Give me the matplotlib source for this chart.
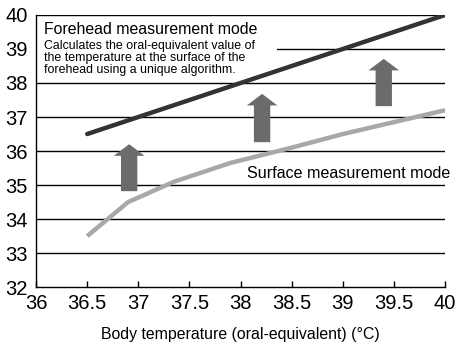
import numpy as np
import matplotlib.pyplot as plt
from matplotlib.patches import Rectangle

plt.rcParams['font.family'] = ['Liberation Sans', 'DejaVu Sans']

# data
body_temp = [36.5, 37.0, 37.5, 38.0, 38.5, 39.0, 39.5, 40.0]
forehead = [36.5, 37.0, 37.5, 38.0, 38.5, 39.0, 39.5, 40.0]
surface_x = [36.5, 36.9, 37.35, 37.9, 38.5, 39.0, 39.5, 40.0]
surface = [33.5, 34.5, 35.1, 35.65, 36.1, 36.5, 36.85, 37.2]
arrow_x = [36.91, 38.21, 39.40]
arrow_from = [34.82, 36.26, 37.32]
arrow_to = [36.2, 37.68, 38.71]
xticks = [36, 36.5, 37, 37.5, 38, 38.5, 39, 39.5, 40]
yticks = [32, 33, 34, 35, 36, 37, 38, 39, 40]

fig = plt.figure(figsize=(4.57, 3.48), dpi=100)
ax = fig.add_axes([0.079, 0.175, 0.895, 0.782])
ax.set_xlim(36, 40)
ax.set_ylim(32, 40)

# grid lines
for y in yticks[1:]:
    ax.axhline(y, color='black', lw=1.0, zorder=1)

# white box behind the forehead caption
ax.add_patch(Rectangle((0, 0.78), 0.59, 0.19, transform=ax.transAxes,
                       facecolor='white', edgecolor='none', zorder=2))

ax.plot(body_temp, forehead, color='#333333', lw=3.2, solid_capstyle='round', zorder=4)
ax.plot(surface_x, surface, color='#a8a8a8', lw=3.2, solid_capstyle='butt', zorder=4)

for x, y0, y1 in zip(arrow_x, arrow_from, arrow_to):
    ax.arrow(x, y0, 0, y1 - y0, width=0.16, head_width=0.30, head_length=0.34,
             length_includes_head=True, color='#6b6b6b', ec='none', zorder=3)

ax.text(36.08, 39.58, 'Forehead measurement mode', fontsize=11.4,
        ha='left', va='center', zorder=5)
ax.text(36.08, 38.74, 'Calculates the oral-equivalent value of\n'
        'the temperature at the surface of the\n'
        'forehead using a unique algorithm.',
        fontsize=8.9, ha='left', va='center', linespacing=1.02,
        family=['Liberation Sans Narrow', 'Liberation Sans'], zorder=5)
ax.text(40.05, 35.35, 'Surface measurement mode', fontsize=11.6,
        ha='right', va='center', clip_on=False, zorder=5)

ax.set_xticks(xticks)
ax.set_xticklabels([f'{t:g}' for t in xticks], fontsize=14.5)
ax.set_yticks(yticks)
ax.set_yticklabels([str(t) for t in yticks], fontsize=14.5)
ax.tick_params(axis='x', direction='in', length=4, width=1, pad=5)
ax.tick_params(axis='y', length=0, pad=6)
ax.set_xlabel('Body temperature (oral-equivalent) (°C)', fontsize=11.4, labelpad=10)

for s in ['top', 'right']:
    ax.spines[s].set_visible(False)
for s in ['left', 'bottom']:
    ax.spines[s].set_linewidth(1.0)

fig.savefig('out.png', dpi=100)
